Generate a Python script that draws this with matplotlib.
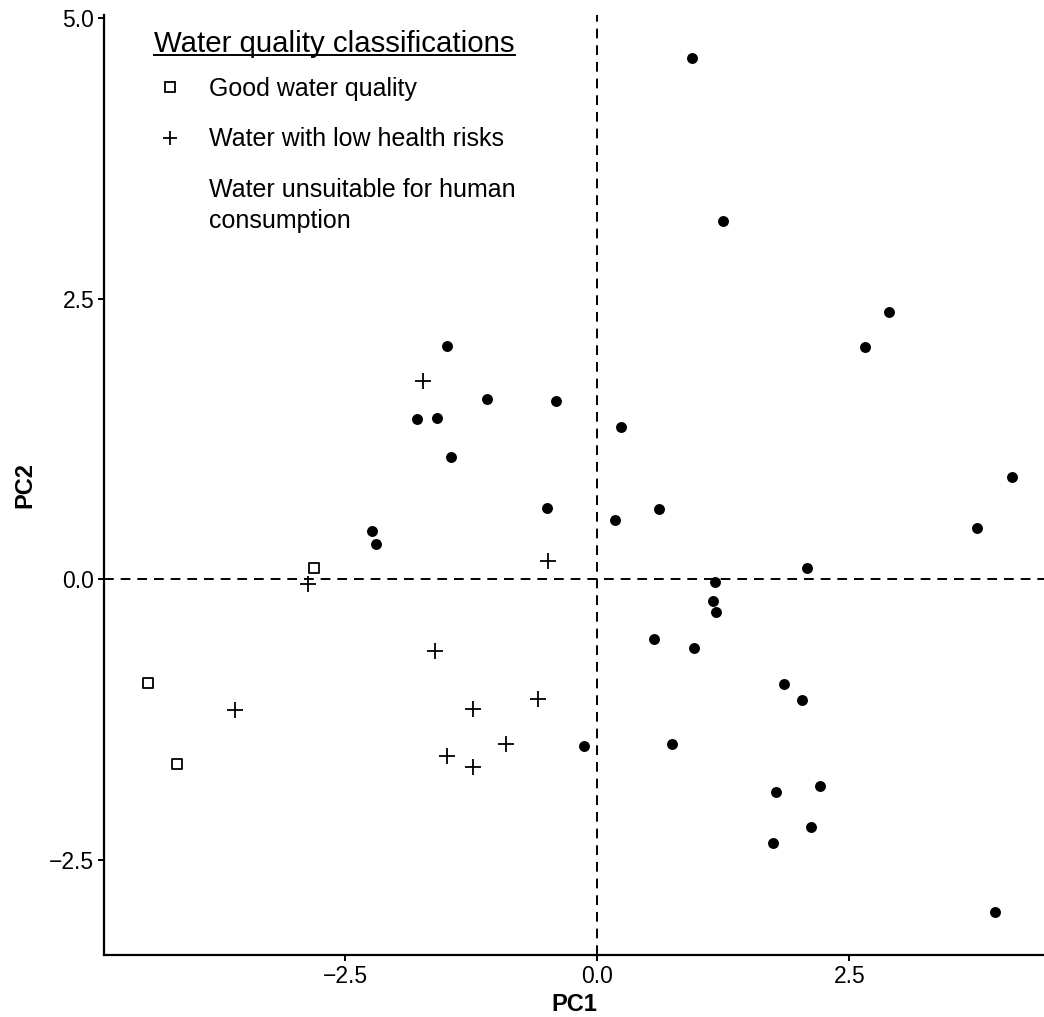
import matplotlib
matplotlib.use("Agg")
import matplotlib.pyplot as plt
from matplotlib.lines import Line2D

plt.rcParams['font.family'] = ['Liberation Sans', 'DejaVu Sans']
plt.rcParams['lines.scale_dashes'] = False

# Data: PC scores by class
good_pc1 = [-2.813, -4.460, -4.173]
good_pc2 = [0.098, -0.921, -1.647]

low_pc1 = [-1.726, -0.489, -2.873, -1.613, -3.597, -1.236, -0.588, -0.909, -1.494, -1.233]
low_pc2 = [1.766, 0.166, -0.045, -0.636, -1.164, -1.158, -1.066, -1.464, -1.571, -1.674]

unsuit_pc1 = [-1.488, -1.091, -0.413, -1.786, -1.587, -1.448, -0.496, -2.232, -2.192,
              2.897, 2.656, 0.232, 4.114, 0.609, 0.176, 3.767, 2.077, 1.171, 1.148, 1.178,
              0.560, 0.959, 1.855, 2.031, -0.132, 0.744, 1.770, 2.212, 2.123, 1.743, 3.942,
              0.939, 1.247]
unsuit_pc2 = [2.080, 1.605, 1.590, 1.425, 1.436, 1.092, 0.635, 0.433, 0.311,
              2.378, 2.071, 1.356, 0.911, 0.623, 0.531, 0.460, 0.098, -0.021, -0.193, -0.291,
              -0.529, -0.609, -0.930, -1.075, -1.484, -1.464, -1.894, -1.841, -2.206, -2.351, -2.963,
              4.645, 3.193]

legend_title = "Water quality classifications"
labels = ["Good water quality", "Water with low health risks",
          "Water unsuitable for human\nconsumption"]
x_ticks = [-2.5, 0.0, 2.5]
y_ticks = [-2.5, 0.0, 2.5, 5.0]

fig = plt.figure(figsize=(10.44, 10.17), dpi=100)
ax = fig.add_axes([104/1044, 62/1017, 1 - 104/1044, (955-15)/1017])

ax.axhline(0, color='black', lw=1.4, dashes=(7, 5), zorder=1)
ax.axvline(0, color='black', lw=1.4, dashes=(7, 5), zorder=1)

ax.scatter(good_pc1, good_pc2, marker='s', s=55, facecolors='white',
           edgecolors='black', linewidths=1.3, zorder=3)
ax.scatter(low_pc1, low_pc2, marker='+', s=140, color='black', linewidths=1.3, zorder=3)
ax.scatter(unsuit_pc1, unsuit_pc2, marker='o', s=62, color='black', linewidths=0, zorder=3)

ax.set_xlim(-4.894, 4.43)
ax.set_ylim(-3.345, 5.025)
ax.set_xticks(x_ticks)
ax.set_yticks(y_ticks)
ax.set_xticklabels([f"{v:.1f}".replace('-', '\u2212') for v in x_ticks])
ax.set_yticklabels([f"{v:.1f}".replace('-', '\u2212') for v in y_ticks])
ax.tick_params(axis='both', labelsize=16.5, length=4, width=1.4, color='black',
               labelcolor='black', pad=3)
for s in ['top', 'right']:
    ax.spines[s].set_visible(False)
for s in ['left', 'bottom']:
    ax.spines[s].set_linewidth(1.6)

ax.set_xlabel("PC1", fontsize=17, fontweight='bold', labelpad=4)
ax.set_ylabel("PC2", fontsize=17, fontweight='bold', labelpad=9)

handles = [
    Line2D([], [], marker='s', linestyle='None', markersize=7.5, markerfacecolor='white',
           markeredgecolor='black', markeredgewidth=1.3),
    Line2D([], [], marker='+', linestyle='None', markersize=10, color='black',
           markeredgewidth=1.3),
    Line2D([], [], marker='None', linestyle='None'),
]
leg = ax.legend(handles, labels, title=legend_title, loc='upper left',
                bbox_to_anchor=(154/1044, 1 - 30/1017), bbox_transform=fig.transFigure,
                frameon=False, fontsize=18, title_fontsize=21.2, alignment='left',
                handletextpad=0.92, labelspacing=1.06, handlelength=1.28, borderpad=0,
                borderaxespad=0)
leg.get_texts()[2].set_linespacing(1.36)
leg._legend_box.sep = 13.5

fig.canvas.draw()
bb = leg.get_title().get_window_extent()
yline = bb.y0 + 3
fig.add_artist(Line2D([bb.x0 / fig.bbox.width, bb.x1 / fig.bbox.width],
                      [yline / fig.bbox.height, yline / fig.bbox.height],
                      transform=fig.transFigure, color='black', lw=1.4))

fig.savefig("out.png", dpi=100)
